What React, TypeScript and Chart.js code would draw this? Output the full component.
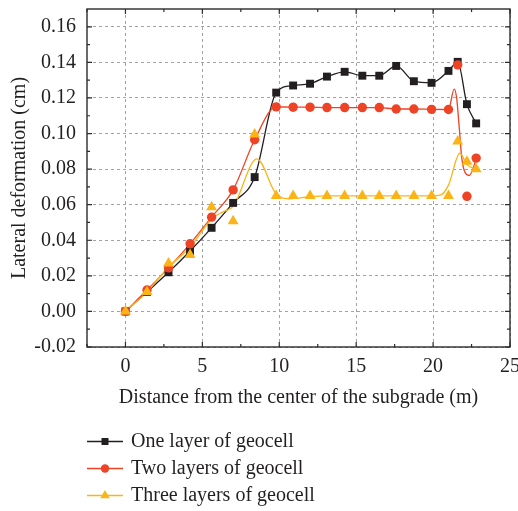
import { useEffect, useRef } from 'react';
import { Chart, registerables } from 'chart.js';

Chart.register(...registerables);

// ---- data ----
const distances = [0, 1.4, 2.8, 4.2, 5.6, 7.0, 8.4, 9.8, 10.9, 12.0, 13.1, 14.25, 15.4, 16.5, 17.6, 18.75, 19.9, 21.0, 21.6, 22.2, 22.8];
const oneLayer = [0, 0.011, 0.022, 0.034, 0.047, 0.061, 0.0755, 0.123, 0.127, 0.128, 0.132, 0.1347, 0.1325, 0.1325, 0.138, 0.1294, 0.1285, 0.1352, 0.1403, 0.1165, 0.1057];
const twoLayers = [0, 0.012, 0.0245, 0.038, 0.053, 0.0683, 0.0965, 0.115, 0.1148, 0.1148, 0.1146, 0.1146, 0.1146, 0.1146, 0.1138, 0.1138, 0.1136, 0.1135, 0.1386, 0.0647, 0.0862];
const threeLayers = [0, 0.011, 0.027, 0.0318, 0.0586, 0.0508, 0.0995, 0.065, 0.065, 0.065, 0.065, 0.065, 0.065, 0.065, 0.065, 0.065, 0.065, 0.065, 0.0956, 0.0842, 0.080];

// smoothed fit curves
const twoCurveX = [0, 1.4, 2.8, 4.2, 5.6, 7.0, 8.4, 9.8, 10.9, 12.0, 13.1, 14.25, 15.4, 16.5, 17.6, 18.75, 19.9, 21.0, 21.37, 21.53, 21.7, 21.86, 22.07, 22.35, 22.83];
const twoCurveY = [0, 0.012, 0.0245, 0.038, 0.053, 0.0683, 0.0965, 0.115, 0.1148, 0.1148, 0.1146, 0.1146, 0.1146, 0.1146, 0.1138, 0.1138, 0.1136, 0.1135, 0.125, 0.120, 0.1034, 0.0866, 0.0782, 0.0764, 0.0863];
const threeCurveX = [0, 1.4, 2.8, 4.2, 5.6, 6.3, 7.0, 8.55, 9.8, 10.7, 12.0, 13.1, 14.25, 15.4, 16.5, 17.6, 18.75, 19.9, 20.5, 21.0, 21.74, 22.2, 22.8];
const threeCurveY = [0, 0.011, 0.025, 0.036, 0.052, 0.0558, 0.059, 0.0857, 0.066, 0.0633, 0.0645, 0.065, 0.065, 0.065, 0.065, 0.065, 0.065, 0.065, 0.0655, 0.071, 0.0889, 0.0825, 0.080];

const seriesNames = ['One layer of geocell', 'Two layers of geocell', 'Three layers of geocell'];
const xTickValues = [0, 5, 10, 15, 20, 25];
const yTickValues = [-0.02, 0, 0.02, 0.04, 0.06, 0.08, 0.1, 0.12, 0.14, 0.16];
const xTitle = 'Distance from the center of the subgrade (m)';
const yTitle = 'Lateral deformation (cm)';

// ---- styles ----
const colors = ['#231f20', '#ee4325', '#fbb416'];
const pointStyles = ['rect', 'circle', 'triangle'];
const FONT = "'Liberation Serif', 'Times New Roman', serif";
const TEXT = '#231f20';

const pts = (xs: number[], ys: number[]) => xs.map((x, i) => ({ x, y: ys[i] }));

const frameTicksPlugin = {
  id: 'frameTicks',
  afterDraw(chart: any) {
    const { ctx, chartArea: a, scales } = chart;
    const x = scales.x;
    const y = scales.y;
    ctx.save();
    ctx.strokeStyle = '#2b2b2b';
    ctx.lineWidth = 1.4;
    ctx.strokeRect(a.left, a.top, a.right - a.left, a.bottom - a.top);
    ctx.lineWidth = 1.2;
    ctx.beginPath();
    for (let i = -1; i <= 10; i++) {
      const v = i * 2.5;
      const px = x.getPixelForValue(v);
      const len = i % 2 === 0 ? 5 : 3;
      ctx.moveTo(px, a.bottom);
      ctx.lineTo(px, a.bottom - len);
      ctx.moveTo(px, a.top);
      ctx.lineTo(px, a.top + len);
    }
    for (let i = -2; i <= 16; i++) {
      const v = i * 0.01;
      const py = y.getPixelForValue(v);
      const len = i % 2 === 0 ? 5 : 3;
      ctx.moveTo(a.left, py);
      ctx.lineTo(a.left + len, py);
      ctx.moveTo(a.right, py);
      ctx.lineTo(a.right - len, py);
    }
    ctx.stroke();
    ctx.restore();
  },
};

const legendPlugin = {
  id: 'verticalLegend',
  afterDraw(chart: any) {
    const { ctx } = chart;
    const rowY = [441.5, 468.5, 495.5];
    const x0 = 87;
    const x1 = 123;
    const mx = 105;
    ctx.save();
    seriesNames.forEach((name, i) => {
      const yy = rowY[i];
      ctx.strokeStyle = colors[i];
      ctx.lineWidth = 1.5;
      ctx.beginPath();
      ctx.moveTo(x0, yy);
      ctx.lineTo(x1, yy);
      ctx.stroke();
      ctx.fillStyle = colors[i];
      ctx.beginPath();
      if (pointStyles[i] === 'rect') {
        ctx.rect(mx - 3.5, yy - 3.5, 7, 7);
      } else if (pointStyles[i] === 'circle') {
        ctx.arc(mx, yy, 4.2, 0, Math.PI * 2);
      } else {
        const r = 5.5;
        ctx.moveTo(mx, yy - r);
        ctx.lineTo(mx + r * 0.866, yy + r * 0.5);
        ctx.lineTo(mx - r * 0.866, yy + r * 0.5);
        ctx.closePath();
      }
      ctx.fill();
      ctx.fillStyle = TEXT;
      ctx.font = `20px ${FONT}`;
      ctx.textBaseline = 'middle';
      ctx.textAlign = 'left';
      ctx.fillText(name, 131, yy);
    });
    ctx.restore();
  },
};

export default function App() {
  const ref = useRef<HTMLCanvasElement | null>(null);

  useEffect(() => {
    if (!ref.current) return;
    const markerSets = [oneLayer, twoLayers, threeLayers].map((ys, i) => ({
      label: seriesNames[i],
      data: pts(distances, ys),
      showLine: false,
      pointStyle: pointStyles[i],
      pointRadius: i === 0 ? 5.6 : i === 1 ? 4.7 : 6.3,
      pointHoverRadius: 5,
      pointBackgroundColor: colors[i],
      pointBorderColor: colors[i],
      pointBorderWidth: 0,
      borderColor: colors[i],
      backgroundColor: colors[i],
      order: 2 - i,
    }));
    const curveData = [pts(distances, oneLayer), pts(twoCurveX, twoCurveY), pts(threeCurveX, threeCurveY)];
    const curveSets = curveData.map((d, i) => ({
      label: seriesNames[i] + ' fit',
      data: d,
      showLine: true,
      borderColor: colors[i],
      borderWidth: 1.3,
      pointRadius: 0,
      fill: false,
      cubicInterpolationMode: 'monotone',
      order: 5 - i,
    }));

    const axisFont = { family: FONT, size: 20 };
    const chart = new Chart(ref.current, {
      type: 'line',
      data: { datasets: [...curveSets, ...markerSets] as any },
      options: {
        responsive: false,
        animation: false,
        devicePixelRatio: 1,
        layout: { padding: { left: 0, top: 9, right: 8, bottom: 0 } },
        plugins: { legend: { display: false }, tooltip: { enabled: false } },
        scales: {
          x: {
            type: 'linear',
            min: -2.5,
            max: 25,
            afterBuildTicks: (s: any) => {
              s.ticks = xTickValues.map((v) => ({ value: v }));
            },
            afterFit: (s: any) => {
              s.height = 164;
              s.paddingLeft = 0;
              s.paddingRight = 0;
            },
            grid: { color: '#a3a3a3', lineWidth: 1, drawTicks: false },
            border: { display: false, dash: [3, 3] },
            ticks: { font: axisFont, color: TEXT, padding: 8, maxRotation: 0, callback: (v: any) => String(v) },
            title: { display: true, text: xTitle, font: axisFont, color: TEXT, padding: { top: 0, bottom: 101 } },
          },
          y: {
            type: 'linear',
            min: -0.02,
            max: 0.17,
            afterBuildTicks: (s: any) => {
              s.ticks = yTickValues.map((v) => ({ value: v }));
            },
            afterFit: (s: any) => {
              s.width = 87;
              s.paddingTop = 0;
              s.paddingBottom = 0;
            },
            grid: { color: '#a3a3a3', lineWidth: 1, drawTicks: false },
            border: { display: false, dash: [3, 3] },
            ticks: { font: axisFont, color: TEXT, padding: 11, callback: (v: any) => Number(v).toFixed(2) },
            title: { display: true, text: yTitle, font: axisFont, color: TEXT, padding: { top: 8, bottom: 0 } },
          },
        },
      },
      plugins: [frameTicksPlugin, legendPlugin],
    });
    return () => chart.destroy();
  }, []);

  return (
    <div style={{ position: 'fixed', left: 0, top: 0, width: 518, height: 511, background: '#fff' }}>
      <canvas ref={ref} width={518} height={511} />
    </div>
  );
}
